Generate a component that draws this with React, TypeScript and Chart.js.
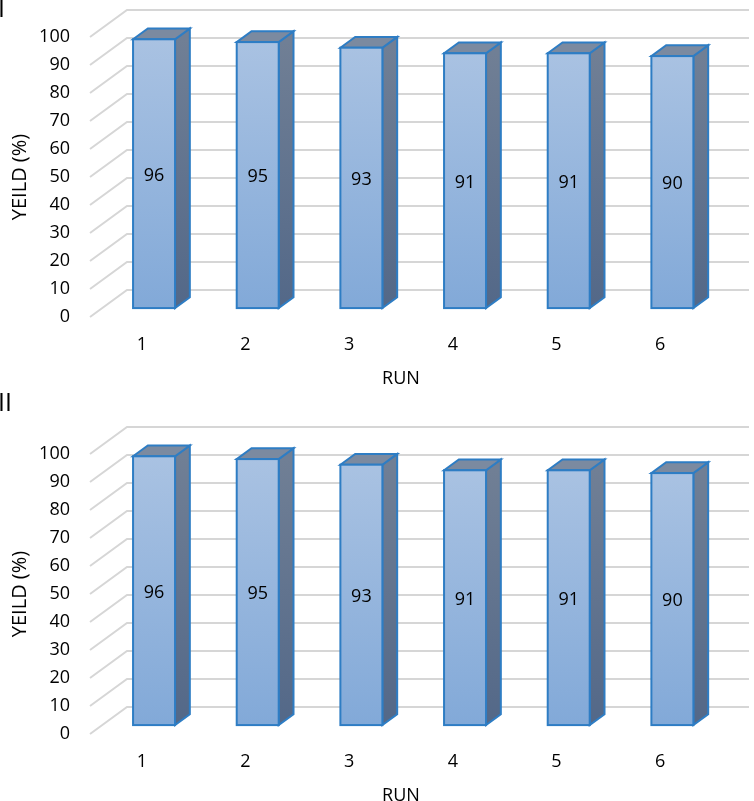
import { useEffect, useRef } from "react"
import { Chart, registerables } from "chart.js"

Chart.register(...registerables)

const runs = ["1", "2", "3", "4", "5", "6"]
const yieldPanelI = [96, 95, 93, 91, 91, 90]
const yieldPanelII = [96, 95, 93, 91, 91, 90]
const yMin = 0
const yMax = 100
const yStep = 10

const FONT = "'Open Sans', sans-serif"
const TEXT = "#000000"

// 3D look: floor depth in px, and where the bars sit inside it
const DEPTH_X = 37
const DEPTH_Y = -27
const BAR_FRONT = 0.33
const BAR_DEPTH = 0.4

const box3d = {
  id: "box3d",
  beforeDatasetsDraw(chart: any) {
    const { ctx, chartArea, scales } = chart
    const y = scales.y
    ctx.save()
    ctx.strokeStyle = "#d6d6d6"
    ctx.lineWidth = 2
    y.ticks.forEach((t: any) => {
      const py = y.getPixelForValue(t.value)
      ctx.beginPath()
      ctx.moveTo(chartArea.left, py)
      ctx.lineTo(chartArea.left + DEPTH_X, py + DEPTH_Y)
      ctx.lineTo(chartArea.right + DEPTH_X, py + DEPTH_Y)
      ctx.stroke()
    })
    ctx.restore()
  },
  afterDatasetsDraw(chart: any) {
    const { ctx } = chart
    const meta = chart.getDatasetMeta(0)
    const values = chart.data.datasets[0].data
    const ox = DEPTH_X * BAR_FRONT
    const oy = DEPTH_Y * BAR_FRONT
    const dx = DEPTH_X * BAR_DEPTH
    const dy = DEPTH_Y * BAR_DEPTH
    ctx.save()
    ctx.lineJoin = "miter"
    ctx.lineWidth = 2
    ctx.strokeStyle = "#2e7dc4"
    meta.data.forEach((bar: any, i: number) => {
      const { x, y, base, width } = bar.getProps(["x", "y", "base", "width"], true)
      const l = x - width / 2 + ox
      const r = x + width / 2 + ox
      const t = y + oy
      const b = base + oy

      // side face
      const side = ctx.createLinearGradient(0, t, 0, b)
      side.addColorStop(0, "#707f95")
      side.addColorStop(1, "#536888")
      ctx.fillStyle = side
      ctx.beginPath()
      ctx.moveTo(r, t)
      ctx.lineTo(r + dx, t + dy)
      ctx.lineTo(r + dx, b + dy)
      ctx.lineTo(r, b)
      ctx.closePath()
      ctx.fill()
      ctx.stroke()

      // top face
      ctx.fillStyle = "#7b8aa0"
      ctx.beginPath()
      ctx.moveTo(l, t)
      ctx.lineTo(l + dx, t + dy)
      ctx.lineTo(r + dx, t + dy)
      ctx.lineTo(r, t)
      ctx.closePath()
      ctx.fill()
      ctx.stroke()

      // front face
      const front = ctx.createLinearGradient(0, t, 0, b)
      front.addColorStop(0, "#a9c2e2")
      front.addColorStop(1, "#82a9d8")
      ctx.fillStyle = front
      ctx.fillRect(l, t, r - l, b - t)
      ctx.strokeRect(l, t, r - l, b - t)

      ctx.fillStyle = TEXT
      ctx.font = `18px ${FONT}`
      ctx.textAlign = "center"
      ctx.textBaseline = "middle"
      ctx.fillText(String(values[i]), (l + r) / 2, (t + b) / 2 + 2)
    })
    ctx.restore()
  },
}

function YieldPanel({ values, top, name }: { values: number[]; top: number; name: string }) {
  const canvasRef = useRef<HTMLCanvasElement>(null)
  const chartInstance = useRef<Chart | null>(null)

  useEffect(() => {
    if (!canvasRef.current) return
    if (chartInstance.current) chartInstance.current.destroy()

    chartInstance.current = new Chart(canvasRef.current, {
      type: "bar",
      data: {
        labels: runs,
        datasets: [
          {
            data: values,
            backgroundColor: "rgba(0,0,0,0)",
            borderWidth: 0,
            barPercentage: 0.405,
            categoryPercentage: 1,
          },
        ],
      },
      options: {
        animation: false,
        responsive: true,
        maintainAspectRatio: false,
        layout: { padding: { top: 37, right: 42, left: 0, bottom: 0 } },
        plugins: { legend: { display: false }, tooltip: { enabled: false } },
        scales: {
          x: {
            offset: true,
            grid: { display: false, drawTicks: false },
            border: { display: false },
            ticks: { color: TEXT, font: { family: FONT, size: 18 }, padding: 17 },
            title: {
              display: true,
              text: "RUN",
              color: TEXT,
              font: { family: FONT, size: 18 },
              padding: { top: 0, bottom: 27 },
            },
            afterFit: (s: any) => {
              s.height = 100
            },
          },
          y: {
            min: yMin,
            max: yMax,
            grid: { display: false, drawTicks: false },
            border: { display: false },
            ticks: { stepSize: yStep, color: TEXT, font: { family: FONT, size: 18 }, padding: 20 },
            title: {
              display: true,
              text: "YEILD (%)",
              color: TEXT,
              font: { family: FONT, size: 20 },
              padding: { top: 8, bottom: 0 },
            },
            afterFit: (s: any) => {
              s.width = 90
            },
          },
        },
      },
      plugins: [box3d],
    })

    return () => {
      if (chartInstance.current) {
        chartInstance.current.destroy()
        chartInstance.current = null
      }
    }
  }, [values])

  return (
    <div style={{ position: "absolute", left: 0, top, width: 754, height: 417 }}>
      <canvas ref={canvasRef} />
      <div
        style={{
          position: "absolute",
          left: -2,
          top: name === "I" ? -5 : -28,
          fontFamily: FONT,
          fontSize: 25,
          lineHeight: "24px",
          color: TEXT,
        }}
      >
        {name}
      </div>
    </div>
  )
}

export default function App() {
  return (
    <div
      style={{
        position: "absolute",
        left: 0,
        top: 0,
        width: 754,
        height: 801,
        overflow: "hidden",
        background: "#ffffff",
      }}
    >
      <YieldPanel values={yieldPanelI} top={0} name="I" />
      <YieldPanel values={yieldPanelII} top={417} name="II" />
    </div>
  )
}
